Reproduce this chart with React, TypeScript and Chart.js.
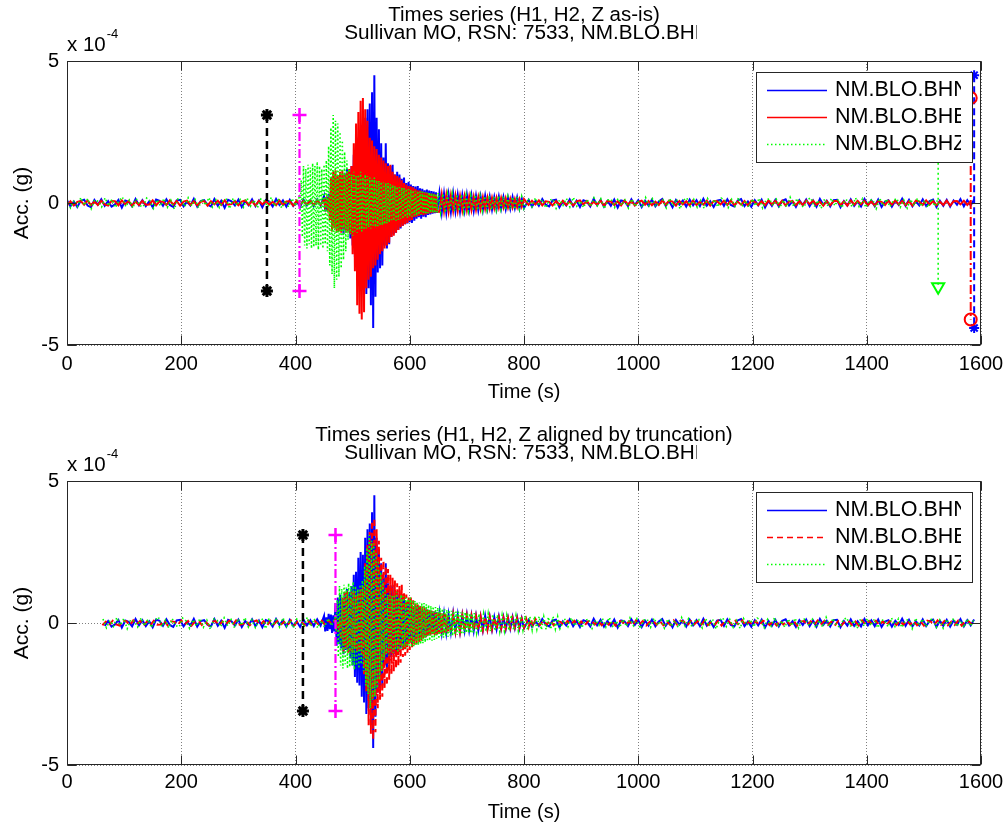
import React, { useEffect, useRef } from 'react';
import { Chart, registerables } from 'chart.js';

Chart.register(...registerables);

// ---------------- DATA (acceleration in units of 1e-4 g, time in s) ----------------
// Each component is stored as segments; each segment = sample values read from the
// figure, spread evenly between the segment's start and end time.

// BHN (H1, blue)
const bhnSegTimes = [[0, 444], [450, 648], [652, 800], [808, 1588]];
const bhnPre = [0.10,-0.12,0.05,-0.14,0.08,0.12,-0.09,-0.15,0.11,-0.06,0.13,-0.10,0.07,-0.13,-0.05,0.11,-0.16,0.09,0.04,-0.12,0.14,-0.08,0.10,-0.11,0.06,-0.15,0.12,0.08,-0.10,0.13,-0.07,-0.14,0.09,0.11,-0.12,0.05,-0.09,0.15,-0.13,0.07,0.10,-0.06,-0.12,0.14,-0.10,0.08,-0.17,0.11,0.06,-0.09,0.12,-0.14,0.07,-0.08,0.13,-0.11,0.09,-0.15,0.10,0.05,-0.12,0.14,-0.07,0.09,-0.13,0.11,-0.10,0.06,-0.14,0.12,-0.08,0.10,-0.11,0.13,-0.09];
const bhnEvent = [0.25,-0.3,0.2,-0.28,0.32,-0.22,0.3,-0.35,0.27,-0.3,
  0.7,-0.8,0.9,-0.75,1.0,-0.9,0.85,-1.1,1.05,-0.95,1.2,-1.0,1.1,-1.25,1.3,
  -1.5,1.7,-1.9,1.8,-2.1,2.3,-2.2,2.5,-2.6,2.4,
  -2.8,3.0,-3.2,3.3,-3.0,3.5,-3.6,3.9,-4.4,4.5,-3.3,3.0,-2.45,2.6,-2.3,
  2.1,-2.2,1.6,-1.5,2.1,-1.6,1.4,-1.45,1.3,-1.2,1.35,-1.1,1.0,-1.05,1.1,
  -0.95,1.0,-0.9,0.85,-0.8,0.9,-0.75,0.7,-0.72,0.75,-0.68,0.65,-0.7,0.6,-0.62,
  0.58,-0.55,0.6,-0.5,0.52,-0.55,0.5,-0.48,0.45,-0.5,0.47,-0.42,0.44,-0.4,0.42,-0.38,0.4,-0.36,0.38,-0.35];
const bhnCoda = [0.36,-0.34,0.33,-0.35,0.30,-0.32,0.34,-0.30,0.29,-0.31,0.28,-0.27,0.30,-0.26,0.27,-0.28,0.25,-0.26,0.24,-0.25,0.26,-0.22,0.23,-0.24,0.21,-0.22,0.23,-0.20,0.21,-0.22,0.19,-0.20,0.21,-0.18,0.20,-0.19,0.17,-0.18];
const bhnTail = [0.11,-0.13,0.07,-0.10,0.14,-0.06,-0.12,0.09,0.12,-0.15,0.06,-0.09,0.13,-0.11,0.08,-0.14,0.10,0.05,-0.12,0.15,-0.08,0.11,-0.13,0.07,-0.10,0.12,-0.16,0.09,0.06,-0.11,0.13,-0.07,0.10,-0.14,0.08,-0.09,0.12,-0.12,0.05,0.14,-0.10,0.07,-0.15,0.11,-0.06,0.09,-0.13,0.12,-0.08,0.10,-0.11,0.15,-0.09,0.06,-0.14,0.08,0.11,-0.10,0.13,-0.07,-0.12,0.09,0.14,-0.11,0.05,-0.13,0.10,-0.08,0.12,-0.16,0.07,-0.10,0.11,-0.12,0.08,0.13,-0.09,0.06,-0.14,0.10,-0.07,0.12,-0.11,0.09,-0.13,0.14,-0.06,0.08,-0.12,0.10,0.11,-0.15,0.07,-0.09,0.13,-0.10,0.06,-0.12,0.14,-0.08,0.09,-0.11,0.12,-0.14,0.05,0.10,-0.13,0.08,-0.07,0.15,-0.10,0.11,-0.12,0.06,-0.09,0.13,-0.11,0.07,0.12,-0.14,0.08,-0.10,0.11,-0.13,0.09,-0.06,0.14,-0.12,0.10,-0.08,0.12];

// BHE (H2, red)
const bheSegTimes = [[0, 444], [450, 648], [652, 800], [808, 1582]];
const bhePre = [-0.08,0.06,-0.09,0.04,0.07,-0.06,0.09,-0.08,0.05,-0.07,0.08,-0.05,-0.09,0.07,0.06,-0.08,0.09,-0.04,0.07,-0.09,0.05,-0.07,0.08,-0.06,-0.05,0.09,-0.08,0.06,0.04,-0.07,0.09,-0.06,0.07,-0.09,0.05,0.08,-0.07,0.06,-0.08,0.04,0.07,-0.09,0.06,-0.05,0.08,-0.07,0.09,-0.06,-0.04,0.07,-0.08,0.05,0.09,-0.07,0.06,-0.09,0.08,-0.05,0.07,-0.06,0.04,-0.08,0.09,-0.07,0.05,0.06,-0.09,0.08,-0.06,0.07,-0.05,0.08,-0.07,0.09,-0.06];
const bheEvent = [0.12,-0.14,0.1,-0.15,0.2,
  -0.6,0.9,-1.0,1.1,-0.9,1.15,-1.05,0.95,-1.0,1.1,-1.05,1.15,-0.9,1.0,-1.05,1.1,-1.0,1.2,-1.1,1.3,
  -1.8,2.1,-2.4,2.8,-3.6,3.2,-3.9,3.6,-4.1,3.7,-3.85,3.3,-3.0,
  2.9,-2.7,2.3,-2.6,2.2,-2.3,2.0,-2.2,1.9,-2.0,1.7,-1.8,
  1.6,-1.7,1.5,-1.6,1.4,-1.5,1.3,-1.4,1.35,-1.2,1.1,-1.15,1.0,-1.05,0.95,
  -0.95,0.9,-0.85,0.8,-0.8,0.7,-0.75,0.65,-0.7,0.6,-0.62,0.58,-0.6,0.55,-0.5,
  0.5,-0.48,0.45,-0.46,0.44,-0.42,0.4,-0.43,0.38,-0.4,0.36,-0.38,0.35,-0.36,0.33,-0.34,0.32,-0.33,0.3,-0.3];
const bheCoda = [-0.31,0.30,-0.29,0.28,-0.30,0.27,-0.28,0.26,-0.27,0.25,-0.26,0.24,-0.25,0.23,-0.24,0.22,-0.23,0.21,-0.22,0.20,-0.21,0.19,-0.20,0.18,-0.19,0.18,-0.17,0.18,-0.16,0.17,-0.16,0.15,-0.16,0.14,-0.15,0.14,-0.13,0.14];
const bheTail = [-0.07,0.08,-0.05,0.09,-0.08,0.06,0.04,-0.09,0.07,-0.06,0.08,-0.07,0.05,-0.09,0.06,0.09,-0.05,0.07,-0.08,0.04,-0.06,0.08,-0.09,0.07,0.05,-0.07,0.06,-0.08,0.09,-0.05,0.07,-0.09,0.04,0.08,-0.06,0.07,-0.08,0.05,-0.07,0.09,-0.06,0.08,0.05,-0.09,0.07,-0.05,0.06,-0.08,0.09,-0.07,0.04,-0.06,0.08,-0.09,0.07,0.06,-0.05,0.08,-0.07,0.09,-0.08,0.05,-0.06,0.07,-0.09,0.08,0.04,-0.07,0.06,-0.08,0.09,-0.05,0.07,-0.06,0.08,-0.09,0.05,0.07,-0.08,0.06,-0.07,0.09,-0.04,0.08,-0.06,0.05,-0.09,0.07,-0.08,0.06,0.08,-0.07,0.05,-0.09,0.09,-0.06,0.07,-0.05,0.08,-0.08,0.06,-0.09,0.07,0.04,-0.07,0.08,-0.06,0.09,-0.05,0.07,-0.08,0.06,-0.09,0.08,0.05,-0.07,0.09,-0.06,0.07,-0.08,0.05,-0.07,0.08,-0.09,0.06,0.07,-0.05,0.08,-0.07,0.06];

// BHZ (Z, green)
const bhzSegTimes = [[0, 400], [406, 650], [654, 800], [808, 1525]];
const bhzPre = [0.14,-0.17,0.09,-0.12,0.19,-0.08,0.15,-0.20,0.11,0.06,-0.14,0.18,-0.10,0.13,-0.16,0.08,0.21,-0.13,0.10,-0.18,0.15,-0.09,-0.14,0.17,0.07,-0.19,0.12,-0.11,0.16,-0.15,0.10,-0.22,0.14,0.09,-0.13,0.18,-0.10,0.12,-0.17,0.15,-0.08,0.19,-0.14,0.11,-0.16,0.08,0.13,-0.20,0.17,-0.09,0.12,-0.15,0.18,-0.11,0.10,-0.17,0.14,0.07,-0.13,0.20,-0.12,0.15,-0.18,0.09,-0.14,0.16,-0.10];
const bhzEvent = [0.2,-0.3,0.8,-1.2,
  1.3,-1.5,1.2,-1.6,1.35,-1.45,1.25,-1.6,1.4,-1.55,1.3,-1.5,1.45,-1.65,1.3,-1.5,1.2,-1.6,1.35,-1.45,1.5,-1.7,
  2.0,-2.2,2.65,-2.5,3.1,-3.0,2.9,-2.7,2.8,-2.6,2.5,-2.3,2.2,-2.0,1.8,-1.7,1.5,
  -1.3,1.2,-1.1,1.0,-1.15,1.1,-1.0,0.95,-1.05,1.0,-0.95,1.1,-1.0,0.9,-0.95,1.0,-0.9,0.95,-0.85,0.9,-0.9,0.85,-0.8,0.9,-0.85,0.8,-0.82,0.78,-0.8,0.75,-0.78,0.72,-0.75,0.7,-0.72,0.7,-0.68,
  0.66,-0.65,0.64,-0.62,0.6,-0.62,0.58,-0.6,0.56,-0.55,0.54,-0.56,0.52,-0.5,0.5,-0.52,0.48,-0.47,0.46,-0.48,0.45,-0.44,0.43,-0.45,0.42,-0.41,0.4,-0.42,0.4,-0.39,0.38,-0.4,0.37,-0.36,0.38,-0.35,0.36,-0.35,0.34,-0.36,0.33,-0.34,0.35];
const bhzCoda = [-0.33,0.32,-0.34,0.31,-0.30,0.32,-0.29,0.30,-0.28,0.29,-0.30,0.27,-0.28,0.26,-0.27,0.28,-0.25,0.26,-0.27,0.24,-0.25,0.26,-0.24,0.23,-0.25,0.24,-0.22,0.23,-0.24,0.22,-0.23,0.21,-0.22,0.23,-0.21,0.22,-0.20];
const bhzTail = [0.15,-0.13,0.18,-0.10,0.12,-0.17,0.09,0.14,-0.19,0.11,-0.08,0.16,-0.14,0.20,-0.11,0.07,-0.16,0.13,-0.12,0.18,-0.09,0.15,-0.20,0.10,0.13,-0.15,0.17,-0.08,0.11,-0.18,0.14,-0.12,0.09,-0.16,0.19,-0.10,0.15,-0.13,0.08,0.12,-0.17,0.16,-0.11,0.14,-0.21,0.10,0.18,-0.12,0.13,-0.15,0.09,-0.19,0.16,-0.08,0.12,-0.14,0.17,0.10,-0.16,0.13,-0.11,0.19,-0.13,0.08,-0.15,0.14,-0.10,0.17,-0.18,0.11,0.15,-0.09,0.13,-0.17,0.10,-0.14,0.20,-0.12,0.16,-0.08,-0.15,0.12,0.18,-0.13,0.09,-0.19,0.14,-0.11,0.16,-0.10,0.13,-0.17,0.11,0.08,-0.14,0.18,-0.12,0.15,-0.16,0.09,0.12,-0.20,0.17,-0.10,0.14,-0.13,0.09,0.16,-0.15,0.11,-0.18,0.13,-0.09,0.17,-0.12,0.10,-0.16,0.14,-0.11,0.15];

// Phase picks (black = P, magenta = S) and their drawn marker levels
const pickTimes = [350, 407];
const pickLevels = [3.1, -3.1];
// End-of-record markers (top panel): time and [max, min] of each component
const endTimeN = 1588, endLevelsN = [4.5, -4.4];
const endTimeE = 1582, endLevelsE = [3.7, -4.1];
const endTimeZ = 1525, endLevelsZ = [3.0, -2.95];
// Alignment shifts (s) and truncation window used in the lower panel
const shiftN = 0, shiftE = 20, shiftZ = 63;
const truncWindow = [62, 1588];

const legendLabels = ['NM.BLO.BHN', 'NM.BLO.BHE', 'NM.BLO.BHZ'];
const titleTop = ['Times series (H1, H2, Z as-is)', 'Sullivan MO, RSN: 7533, NM.BLO.BHN'];
const titleBottom = ['Times series (H1, H2, Z aligned by truncation)', 'Sullivan MO, RSN: 7533, NM.BLO.BHN'];
const xTicks = [0, 200, 400, 600, 800, 1000, 1200, 1400, 1600];
const yTicks = [-5, 0, 5];

// ---------------- helpers ----------------
const FONT = '"Liberation Sans", Arial, Helvetica, sans-serif';
const BLUE = '#0000ff', RED = '#ff0000', GREEN = '#00ff00', MAGENTA = '#ff00ff';

function build(segTimes: number[][], segs: number[][], shift = 0, lo = -Infinity, hi = Infinity) {
  const pts: { x: number; y: number }[] = [];
  segs.forEach((ys, k) => {
    const [t0, t1] = segTimes[k];
    const dt = ys.length > 1 ? (t1 - t0) / (ys.length - 1) : 0;
    ys.forEach((v, i) => {
      const x = t0 + i * dt + shift;
      if (x >= lo && x <= hi) pts.push({ x, y: v });
    });
  });
  return pts;
}

const bhnSegs = [bhnPre, bhnEvent, bhnCoda, bhnTail];
const bheSegs = [bhePre, bheEvent, bheCoda, bheTail];
const bhzSegs = [bhzPre, bhzEvent, bhzCoda, bhzTail];

function vline(t: number, levels: number[]) {
  return levels.map((y) => ({ x: t, y }));
}

function decorPlugin(titles: string[], redDash: number[]) {
  return {
    id: 'decor',
    afterDraw(chart: any) {
      const { ctx, chartArea: a, scales } = chart;
      const xs = scales.x, ys = scales.y;
      ctx.save();
      // axes box
      ctx.strokeStyle = '#262626';
      ctx.lineWidth = 1;
      ctx.setLineDash([]);
      const L = Math.round(a.left) + 0.5, R = Math.round(a.right) - 0.5;
      const T = Math.round(a.top) + 0.5, B = Math.round(a.bottom) - 0.5;
      ctx.strokeRect(L, T, R - L, B - T);
      // inward tick marks on all four sides
      ctx.beginPath();
      xs.ticks.forEach((tk: any) => {
        const px = Math.round(xs.getPixelForValue(tk.value)) + 0.5;
        ctx.moveTo(px, B); ctx.lineTo(px, B - 9);
        ctx.moveTo(px, T); ctx.lineTo(px, T + 9);
      });
      ys.ticks.forEach((tk: any) => {
        const py = Math.round(ys.getPixelForValue(tk.value)) + 0.5;
        ctx.moveTo(L, py); ctx.lineTo(L + 9, py);
        ctx.moveTo(R, py); ctx.lineTo(R - 9, py);
      });
      ctx.stroke();

      // exponent label
      ctx.fillStyle = '#000';
      ctx.textBaseline = 'middle';
      ctx.textAlign = 'left';
      ctx.font = `20.5px ${FONT}`;
      ctx.fillText('x 10', a.left, a.top - 16);
      const w = ctx.measureText('x 10').width;
      ctx.font = `13px ${FONT}`;
      ctx.fillText('-4', a.left + w + 1, a.top - 27);

      // titles (second line is clipped at the right, as in the original figure)
      const cx = (a.left + a.right) / 2;
      ctx.font = `20.5px ${FONT}`;
      ctx.textAlign = 'center';
      ctx.fillText(titles[0], cx, a.top - 46);
      ctx.save();
      ctx.beginPath();
      ctx.rect(0, a.top - 42, 697, 30);
      ctx.clip();
      ctx.font = `20.75px ${FONT}`;
      ctx.fillText(titles[1], cx + 3, a.top - 28);
      ctx.restore();

      // legend
      const bl = 756, br = 972, bt = a.top + 11, bb = a.top + 101;
      ctx.fillStyle = '#fff';
      ctx.fillRect(bl, bt, br - bl, bb - bt);
      ctx.strokeStyle = '#262626';
      ctx.lineWidth = 1;
      ctx.strokeRect(bl + 0.5, bt + 0.5, br - bl, bb - bt);
      const rows = [a.top + 28.5, a.top + 55.5, a.top + 82.5];
      const cols = [BLUE, RED, GREEN];
      const dashes = [[], redDash, [1.5, 2.5]];
      rows.forEach((ry, i) => {
        ctx.beginPath();
        ctx.strokeStyle = cols[i];
        ctx.lineWidth = 1.5;
        ctx.setLineDash(dashes[i]);
        ctx.moveTo(767, Math.round(ry) + 0.5);
        ctx.lineTo(827, Math.round(ry) + 0.5);
        ctx.stroke();
        ctx.setLineDash([]);
        ctx.save();
        ctx.beginPath();
        ctx.rect(bl, bt, 961 - bl, bb - bt);
        ctx.clip();
        ctx.fillStyle = '#000';
        ctx.font = `21.5px ${FONT}`;
        ctx.textAlign = 'left';
        ctx.textBaseline = 'middle';
        ctx.fillText(legendLabels[i], 835, ry + 1);
        ctx.restore();
      });
      ctx.restore();
    },
  };
}

function makeConfig(datasets: any[], padTop: number, xAxisH: number, xTitlePad: number, xTickPad: number, titles: string[], redDash: number[]) {
  const font = { family: FONT, size: 20 };
  const titleFont = { family: FONT, size: 21 };
  return {
    type: 'line',
    data: { datasets },
    options: {
      responsive: false,
      animation: false,
      events: [],
      layout: { padding: { left: 0, top: padTop, right: 25, bottom: 0 } },
      plugins: { legend: { display: false }, title: { display: false }, tooltip: { enabled: false } },
      elements: { point: { radius: 0 }, line: { tension: 0 } },
      scales: {
        x: {
          type: 'linear', min: 0, max: 1600,
          afterFit: (s: any) => { s.height = xAxisH; s.paddingLeft = 0; s.paddingRight = 0; },
          afterBuildTicks: (s: any) => { s.ticks = xTicks.map((v) => ({ value: v })); },
          ticks: { font, color: '#000', padding: xTickPad, maxRotation: 0, autoSkip: false, callback: (v: any) => String(v) },
          grid: { color: 'rgba(0,0,0,0.5)', lineWidth: 1, drawTicks: false },
          border: { display: false, dash: [1, 2] },
          title: { display: true, text: 'Time (s)', font, color: '#000', padding: { top: 0, bottom: xTitlePad } },
        },
        y: {
          type: 'linear', min: -5, max: 5,
          afterFit: (s: any) => { s.width = 67; s.paddingTop = 0; s.paddingBottom = 0; },
          afterBuildTicks: (s: any) => { s.ticks = yTicks.map((v) => ({ value: v })); },
          ticks: { font, color: '#000', padding: 8, callback: (v: any) => String(v) },
          grid: { color: 'rgba(0,0,0,0.5)', lineWidth: 1, drawTicks: false },
          border: { display: false, dash: [1, 2] },
          title: { display: true, text: 'Acc. (g)', font: titleFont, color: '#000', padding: { top: 10, bottom: 0 } },
        },
      },
    },
    plugins: [decorPlugin(titles, redDash)],
  } as any;
}

function series(label: string, data: any[], color: string, order: number, dash: number[] = [], width = 2) {
  return { label, data, borderColor: color, borderWidth: width, borderDash: dash, pointRadius: 0, fill: false, order };
}

function marker(t: number, levels: number[], color: string, dash: number[], style: string, radius: number, width = 2, rotation = 0, pw = 2) {
  return {
    data: vline(t, levels), borderColor: color, borderWidth: width, borderDash: dash,
    pointStyle: style, pointRadius: radius, pointBorderColor: color, pointBorderWidth: pw,
    pointBackgroundColor: 'rgba(0,0,0,0)', pointRotation: rotation, fill: false, order: 0,
  };
}

const DASH_BLACK = [8, 5];
const DASH_DOTDASH = [9, 3, 2, 3];
const DASH_RED_BOTTOM = [6, 4];
const DOTTED = [1.5, 2.5];

export default function App() {
  const topRef = useRef<HTMLCanvasElement>(null);
  const botRef = useRef<HTMLCanvasElement>(null);

  useEffect(() => {
    const topData = [
      series(legendLabels[0], build(bhnSegTimes, bhnSegs), BLUE, 3),
      series(legendLabels[1], build(bheSegTimes, bheSegs), RED, 2),
      series(legendLabels[2], build(bhzSegTimes, bhzSegs), GREEN, 1, DOTTED, 1.6),
      marker(pickTimes[0], pickLevels, '#000', DASH_BLACK, 'star', 6, 2.5, 0, 3),
      marker(pickTimes[1], pickLevels, MAGENTA, DASH_DOTDASH, 'cross', 7, 2.2, 0, 2.5),
      marker(endTimeZ, endLevelsZ, GREEN, [2, 3], 'triangle', 7, 1.5, 180),
      marker(endTimeE, endLevelsE, RED, DASH_DOTDASH, 'circle', 6),
      marker(endTimeN, endLevelsN, BLUE, [7, 4], 'star', 5),
    ];
    const [lo, hi] = truncWindow;
    const botData = [
      series(legendLabels[0], build(bhnSegTimes, bhnSegs, shiftN, lo, hi), BLUE, 3),
      series(legendLabels[1], build(bheSegTimes, bheSegs, shiftE, lo, hi), RED, 2, DASH_RED_BOTTOM),
      series(legendLabels[2], build(bhzSegTimes, bhzSegs, shiftZ, lo, hi), GREEN, 1, DOTTED, 1.6),
      marker(pickTimes[0] + shiftZ, pickLevels, '#000', DASH_BLACK, 'star', 6, 2.5, 0, 3),
      marker(pickTimes[1] + shiftZ, pickLevels, MAGENTA, DASH_DOTDASH, 'cross', 7, 2.2, 0, 2.5),
    ];
    const c1 = new Chart(topRef.current as any, makeConfig(topData, 61, 68, 9, 7, titleTop, []));
    const c2 = new Chart(botRef.current as any, makeConfig(botData, 68, 61, 2, 5, titleBottom, DASH_RED_BOTTOM));
    return () => { c1.destroy(); c2.destroy(); };
  }, []);

  return (
    <div style={{ position: 'absolute', left: 0, top: 0, width: 1006, height: 826, background: '#fff' }}>
      <canvas ref={topRef} width={1006} height={413} style={{ position: 'absolute', left: 0, top: 0, display: 'block' }} />
      <canvas ref={botRef} width={1006} height={413} style={{ position: 'absolute', left: 0, top: 413, display: 'block' }} />
    </div>
  );
}
